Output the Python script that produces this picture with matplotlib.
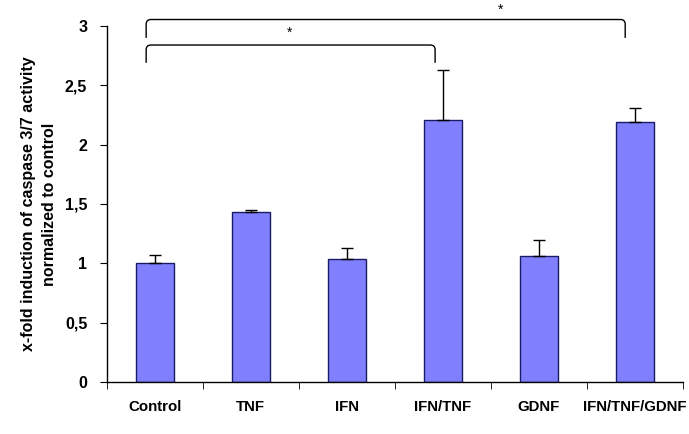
import matplotlib
matplotlib.use("Agg")
import matplotlib.pyplot as plt
from matplotlib.path import Path
from matplotlib.patches import PathPatch
import numpy as np

categories = ["Control", "TNF", "IFN", "IFN/TNF", "GDNF", "IFN/TNF/GDNF"]
values = [1.00, 1.43, 1.04, 2.21, 1.06, 2.19]
errors = [0.07, 0.02, 0.09, 0.42, 0.14, 0.12]
yticks = [0, 0.5, 1, 1.5, 2, 2.5, 3]
ytick_labels = ["0", "0,5", "1", "1,5", "2", "2,5", "3"]

plt.rcParams['font.family'] = ['Liberation Sans', 'DejaVu Sans']

fig = plt.figure(figsize=(6.89, 4.34), dpi=100)
ax = fig.add_axes([0.155, 0.12, 0.836, 0.82])

x = np.arange(len(categories))
ax.bar(x, values, width=0.4, color="#8080ff", edgecolor="#1a1a66", linewidth=1.0, zorder=2)
ax.errorbar(x, values, yerr=[[0]*len(values), errors], fmt="none", ecolor="black",
            elinewidth=1.0, capsize=4, capthick=1.0, zorder=3)

ax.set_xlim(-0.5, len(categories) - 0.5)
ax.set_ylim(0, 3)
ax.set_yticks(yticks)
ax.set_yticklabels(ytick_labels, fontsize=11.5, fontweight="bold")
ax.set_xticks(x)
ax.set_xticklabels(categories, fontsize=10.8, fontweight="bold")
ax.tick_params(axis="x", which="major", length=0, pad=13)
ax.set_xticks(np.arange(-0.5, len(categories), 1.0), minor=True)
ax.tick_params(axis="x", which="minor", length=5, direction="out")
ax.tick_params(axis="y", length=5, direction="out", pad=9)
lbls = ax.get_xticklabels()
lbls[-1].set_x(x[-1] - 0.02)

for s in ["top", "right"]:
    ax.spines[s].set_visible(False)
ax.spines["left"].set_linewidth(1.0)
ax.spines["bottom"].set_linewidth(1.0)

ax.set_ylabel("x-fold induction of caspase 3/7 activity\nnormalized to control",
              fontsize=11.5, fontweight="bold", labelpad=6, linespacing=1.45)

# significance brackets with rounded corners
def bracket(x0, x1, ytop, ybot, star_y, star_x):
    rx, ry = 0.05, 0.04
    verts = [(x0, ybot), (x0, ytop - ry), (x0, ytop), (x0 + rx, ytop),
             (x1 - rx, ytop), (x1, ytop), (x1, ytop - ry), (x1, ybot)]
    codes = [Path.MOVETO, Path.LINETO, Path.CURVE3, Path.CURVE3,
             Path.LINETO, Path.CURVE3, Path.CURVE3, Path.LINETO]
    patch = PathPatch(Path(verts, codes), facecolor="none", edgecolor="black",
                      lw=1.0, clip_on=False)
    ax.add_patch(patch)
    ax.text(star_x, star_y, "*", ha="center", va="center", fontsize=10, clip_on=False)

bracket(-0.09, 2.92, 2.84, 2.69, 2.94, 1.40)
bracket(-0.09, 4.90, 3.055, 2.90, 3.14, 3.60)

fig.savefig("out.png", dpi=100)
